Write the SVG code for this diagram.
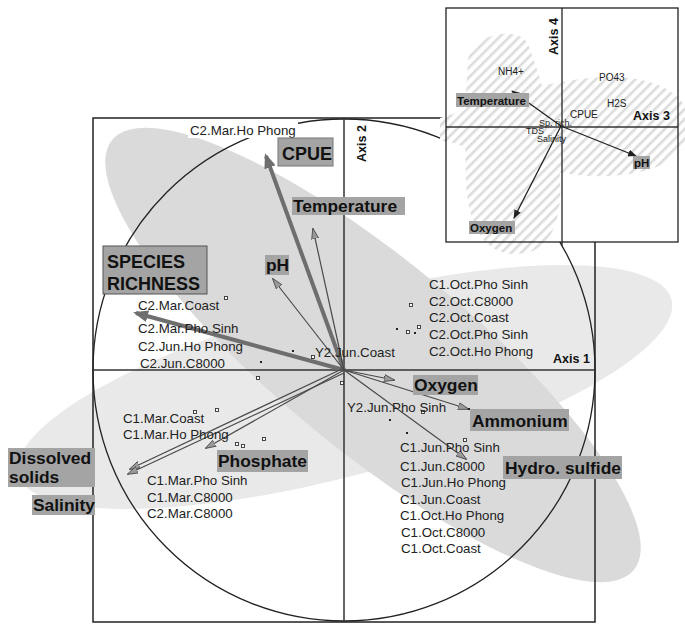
<svg xmlns="http://www.w3.org/2000/svg" width="685" height="626" viewBox="0 0 685 626">
<defs>
<style>
.site{font-family:"Liberation Sans",Arial,sans-serif;font-size:13.3px;fill:#222}
.big{font-family:"Liberation Sans",Arial,sans-serif;font-size:17.4px;font-weight:bold;fill:#111}
.box{fill:#a4a4a4}
.axl{font-family:"Liberation Sans",Arial,sans-serif;font-size:12.5px;font-weight:bold;fill:#111}
.sm{font-family:"Liberation Sans",Arial,sans-serif;font-size:10px;fill:#222}
.tiny{font-family:"Liberation Sans",Arial,sans-serif;font-size:9px;fill:#222}
.smb{font-family:"Liberation Sans",Arial,sans-serif;font-size:11.5px;font-weight:bold;fill:#111}
.thin{stroke:#4a4a4a;stroke-width:1.2;fill:none;marker-end:url(#ahThin)}
.thick{stroke:#6e6e6e;stroke-width:4;fill:none;marker-end:url(#ahThick)}
.ithin{stroke:#222;stroke-width:1.3;fill:none;marker-end:url(#ahIn)}
.pt{fill:#fff;stroke:#333;stroke-width:0.9}
.dot{fill:#222}
</style>
<marker id="ahThin" markerWidth="11" markerHeight="8" refX="10" refY="4" orient="auto" markerUnits="userSpaceOnUse"><path d="M0,0.5 L11,4 L0,7.5 z" fill="#9a9a9a" stroke="#444" stroke-width="0.8"/></marker>
<marker id="ahThick" markerWidth="15" markerHeight="12" refX="12" refY="6" orient="auto" markerUnits="userSpaceOnUse"><path d="M0,0 L15,6 L0,12 z" fill="#6e6e6e"/></marker>
<marker id="ahIn" markerWidth="9" markerHeight="7" refX="8" refY="3.5" orient="auto" markerUnits="userSpaceOnUse"><path d="M0,0 L9,3.5 L0,7 z" fill="#222"/></marker>
<pattern id="hatch" patternUnits="userSpaceOnUse" width="7" height="7" patternTransform="rotate(45)"><rect width="7" height="7" fill="#fff"/><rect width="2.6" height="7" fill="#dcdcdc"/></pattern>
</defs>
<rect width="685" height="626" fill="#fff"/>

<g id="shading">
<ellipse cx="345" cy="387" rx="338" ry="88" transform="rotate(-15 345 387)" fill="#e9e9e9"/>
<ellipse cx="373" cy="355" rx="338" ry="95" transform="rotate(39.5 373 355)" fill="#dadada"/>
</g>

<g id="plot-frame">
<rect x="93" y="118" width="502" height="504" fill="none" stroke="#222" stroke-width="1.5"/>
<circle cx="344" cy="370" r="251" fill="none" stroke="#222" stroke-width="1.3"/>
<line x1="93" y1="370" x2="595" y2="370" stroke="#333" stroke-width="1.5"/>
<line x1="344" y1="118" x2="344" y2="622" stroke="#333" stroke-width="1.5"/>
<text class="axl" x="553" y="363">Axis 1</text>
<text class="axl" transform="translate(366 162) rotate(-90)">Axis 2</text>
</g>

<g id="connectors">
<line class="thick" x1="344" y1="370" x2="266" y2="156"/>
<line class="thick" x1="344" y1="370" x2="136" y2="313"/>
<line class="thin" x1="344" y1="370" x2="313" y2="229"/>
<line class="thin" x1="344" y1="370" x2="273" y2="279"/>
<line class="thin" x1="344" y1="370" x2="394" y2="380"/>
<line class="thin" x1="344" y1="370" x2="468" y2="409"/>
<line class="thin" x1="344" y1="370" x2="466" y2="459"/>
<line class="thin" x1="344" y1="368" x2="130" y2="469"/>
<line class="thin" x1="344" y1="373" x2="128" y2="474"/>
<line class="thin" x1="344" y1="370" x2="206" y2="448"/>
</g>

<g id="samples">
<rect class="pt" x="224.5" y="296.5" width="3" height="3"/>
<rect class="dot" x="292" y="350" width="2" height="2"/>
<rect class="pt" x="311.5" y="355.5" width="3" height="3"/>
<rect class="dot" x="260" y="361" width="2" height="2"/>
<rect class="pt" x="256.5" y="376.5" width="3" height="3"/>
<rect class="pt" x="409.5" y="303.5" width="3" height="3"/>
<rect class="dot" x="396" y="328" width="2" height="2"/>
<rect class="pt" x="406.5" y="330.5" width="3" height="3"/>
<rect class="dot" x="414" y="332" width="2" height="2"/>
<rect class="pt" x="417.5" y="325.5" width="3" height="3"/>
<rect class="pt" x="340.5" y="381.5" width="3" height="3"/>
<rect class="pt" x="193.5" y="410.5" width="3" height="3"/>
<rect class="pt" x="215.5" y="408.5" width="3" height="3"/>
<rect class="pt" x="235.5" y="442.5" width="3" height="3"/>
<rect class="pt" x="241.5" y="444.5" width="3" height="3"/>
<rect class="pt" x="262.5" y="437.5" width="3" height="3"/>
<rect class="dot" x="389" y="419" width="2" height="2"/>
<rect class="dot" x="406" y="432" width="2" height="2"/>
<rect class="dot" x="468" y="408" width="2" height="2"/>
<rect class="pt" x="463.5" y="438.5" width="3" height="3"/>
<rect class="pt" x="421.5" y="410.5" width="3" height="3"/>
</g>

<g id="site-labels">
<rect x="188" y="122" width="110" height="16" fill="#fff"/>
<text class="site" x="190" y="135">C2.Mar.Ho Phong</text>
<text class="site" x="138" y="310">C2.Mar.Coast</text>
<text class="site" x="138" y="333">C2.Mar.Pho Sinh</text>
<text class="site" x="138" y="351">C2.Jun.Ho Phong</text>
<text class="site" x="140" y="368">C2.Jun.C8000</text>
<text class="site" x="315" y="357">Y2.Jun.Coast</text>
<text class="site" x="429" y="289">C1.Oct.Pho Sinh</text>
<text class="site" x="429" y="306">C2.Oct.C8000</text>
<text class="site" x="429" y="322">C2.Oct.Coast</text>
<text class="site" x="429" y="339">C2.Oct.Pho Sinh</text>
<text class="site" x="429" y="356">C2.Oct.Ho Phong</text>
<text class="site" x="347" y="412">Y2.Jun.Pho Sinh</text>
<text class="site" x="400" y="452">C1.Jun.Pho Sinh</text>
<text class="site" x="400" y="471">C1.Jun.C8000</text>
<text class="site" x="401" y="487">C1.Jun.Ho Phong</text>
<text class="site" x="400" y="504">C1.Jun.Coast</text>
<text class="site" x="400" y="520">C1.Oct.Ho Phong</text>
<text class="site" x="401" y="537">C1.Oct.C8000</text>
<text class="site" x="401" y="553">C1.Oct.Coast</text>
<text class="site" x="123" y="423">C1.Mar.Coast</text>
<text class="site" x="123" y="439">C1.Mar.Ho Phong</text>
<text class="site" x="147" y="485">C1.Mar.Pho Sinh</text>
<text class="site" x="147" y="502">C1.Mar.C8000</text>
<text class="site" x="147" y="518">C2.Mar.C8000</text>
</g>

<g id="node-cpue"><rect class="box" x="278" y="138" width="55" height="28" stroke="#777" stroke-width="1"/><text class="big" x="282" y="160" style="font-size:18px">CPUE</text></g>
<g id="node-temperature"><rect class="box" x="292" y="197" width="113" height="18"/><text class="big" x="293" y="212">Temperature</text></g>
<g id="node-ph"><rect class="box" x="265" y="255" width="24" height="20"/><text class="big" x="266" y="271">pH</text></g>
<g id="node-species"><rect class="box" x="103" y="246" width="104" height="48" stroke="#555" stroke-width="1"/><text class="big" x="107" y="268" style="font-size:18px">SPECIES</text><text class="big" x="107" y="290" style="font-size:18px">RICHNESS</text></g>
<g id="node-oxygen"><rect class="box" x="413" y="375" width="65" height="20"/><text class="big" x="414" y="391">Oxygen</text></g>
<g id="node-ammonium"><rect class="box" x="470" y="409" width="99" height="22"/><text class="big" x="472" y="427">Ammonium</text></g>
<g id="node-h2s"><rect class="box" x="503" y="456" width="119" height="23"/><text class="big" x="505" y="474">Hydro. sulfide</text></g>
<g id="node-phosphate"><rect class="box" x="217" y="450" width="91" height="22"/><text class="big" x="218" y="467">Phosphate</text></g>
<g id="node-tds"><rect class="box" x="8" y="448" width="87" height="39"/><text class="big" x="9" y="464">Dissolved</text><text class="big" x="9" y="483">solids</text></g>
<g id="node-salinity"><rect class="box" x="32" y="495" width="63" height="20"/><text class="big" x="33" y="511">Salinity</text></g>

<g id="inset">
<rect x="446" y="8" width="232" height="234" fill="#fff"/>
<path d="M440,118 C470,110 520,85 590,78 C650,72 690,92 690,125 C690,160 650,178 590,176 C520,172 470,145 440,140 Z" fill="url(#hatch)"/>
<path d="M468,60 C470,35 518,24 528,44 C545,90 563,150 560,200 C556,240 540,254 515,254 C482,254 468,222 466,182 C464,130 466,90 468,60 Z" fill="url(#hatch)"/>
<line x1="446" y1="127" x2="678" y2="127" stroke="#333" stroke-width="1.4"/>
<line x1="562" y1="8" x2="562" y2="246" stroke="#333" stroke-width="1.4"/>
<line class="ithin" x1="561" y1="126" x2="512" y2="91"/>
<line class="ithin" x1="561" y1="126" x2="636" y2="156"/>
<line class="ithin" x1="561" y1="126" x2="514" y2="218"/>
<text class="sm" x="498" y="75">NH4+</text>
<text class="sm" x="599" y="81">PO43</text>
<text class="sm" x="607" y="107">H2S</text>
<text class="sm" x="570" y="118">CPUE</text>
<text class="tiny" x="539" y="126">Sp. rich.</text>
<text class="tiny" x="526" y="134">TDS</text>
<text class="tiny" x="537" y="142">Salinity</text>
<text class="axl" x="633" y="120">Axis 3</text>
<text class="axl" transform="translate(558 55) rotate(-90)">Axis 4</text>
<rect class="box" x="456" y="93" width="73" height="14"/><text class="smb" x="457" y="105">Temperature</text>
<rect class="box" x="633" y="156" width="17" height="13"/><text class="smb" x="634" y="167">pH</text>
<rect class="box" x="469" y="221" width="46" height="13"/><text class="smb" x="470" y="232">Oxygen</text>
<rect x="446" y="8" width="232" height="234" fill="none" stroke="#222" stroke-width="1.3"/>
</g>
</svg>
